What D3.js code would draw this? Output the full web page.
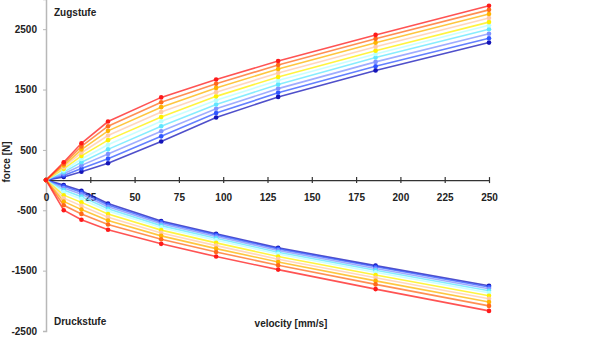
<!DOCTYPE html>
<html>
<head>
<meta charset="utf-8">
<script src="https://cdn.jsdelivr.net/npm/d3@7"></script>
<style>
  body { margin: 0; background: #fff; }
  text { font-family: "Liberation Sans", Arial, sans-serif; font-weight: bold; fill: #222; }
</style>
</head>
<body>
<div id="vis"></div>
<script>
const WIDTH = 600;
const HEIGHT = 352;

// velocidades medidas (mm/s)
const VELOCIDADES = [0, 10, 20, 35, 65, 96, 131, 186, 250];

// Zugstufe (tracción), de rojo a azul oscuro
const ZUG = [
  [0, 295, 610, 970, 1370, 1667, 1972, 2405, 2888],
  [0, 268, 558, 893, 1289, 1597, 1906, 2340, 2820],
  [0, 241, 506, 816, 1208, 1527, 1840, 2274, 2752],
  [0, 213, 453, 739, 1127, 1457, 1774, 2209, 2685],
  [0, 186, 401, 662, 1046, 1387, 1708, 2144, 2617],
  [0, 159, 349, 586, 975, 1322, 1650, 2090, 2565],
  [0, 132, 297, 509, 893, 1252, 1585, 2030, 2500],
  [0, 104, 244, 432, 810, 1180, 1515, 1958, 2425],
  [0, 77, 192, 355, 725, 1110, 1446, 1886, 2350],
  [0, 50, 140, 278, 640, 1038, 1378, 1817, 2278]
];

// Druckstufe (compresión), mismo orden de colores
const DRUCK = [
  [0, -500, -656, -822, -1056, -1267, -1483, -1806, -2167],
  [0, -417, -560, -735, -980, -1191, -1411, -1728, -2084],
  [0, -354, -489, -670, -924, -1135, -1357, -1670, -2021],
  [0, -300, -427, -614, -875, -1086, -1310, -1619, -1967],
  [0, -250, -369, -562, -829, -1040, -1266, -1573, -1917],
  [0, -200, -312, -510, -784, -995, -1223, -1526, -1867],
  [0, -166, -274, -476, -754, -965, -1194, -1495, -1833],
  [0, -133, -235, -441, -723, -934, -1165, -1464, -1800],
  [0, -104, -202, -411, -697, -908, -1140, -1436, -1771],
  [0, -83, -178, -389, -678, -889, -1122, -1417, -1750]
];

const X_TICKS = [0, 25, 50, 75, 100, 125, 150, 175, 200, 225, 250];
const Y_TICKS = [2500, 1500, 500, -500, -1500, -2500];

const COLORES = ["#ff1a1a", "#ff6a1a", "#ffb300", "#ffc9a8", "#fff000",
                 "#b8ffff", "#5fe6ff", "#7f92ff", "#2f55ff", "#1414b8"];

const SVG = d3.select("#vis").append("svg")
  .attr("width", WIDTH)
  .attr("height", HEIGHT);

const escalaX = d3.scaleLinear().domain([0, 250]).range([46, 489]);
const escalaY = d3.scaleLinear().domain([-2500, 3000]).range([331, -1]);

// eje Y (gris)
const ejeY = SVG.append("g")
  .attr("transform", `translate(${escalaX(0)}, 0)`)
  .call(d3.axisLeft(escalaY).tickValues(Y_TICKS).tickFormat(d => String(d)).tickSize(3).tickPadding(6));

ejeY.select(".domain").attr("stroke", "#b8b8b8").attr("stroke-width", 1.5);
ejeY.selectAll(".tick line").attr("stroke", "#b8b8b8");
ejeY.selectAll(".tick text").style("font-size", "10px").attr("fill", "#222");

// eje X (negro, ticks cruzados)
const ejeX = SVG.append("g")
  .attr("transform", `translate(0, ${escalaY(0)})`)
  .call(d3.axisBottom(escalaX).tickValues(X_TICKS).tickFormat(d => String(d)).tickSizeOuter(0).tickPadding(8));

ejeX.select(".domain").attr("stroke", "#333").attr("stroke-width", 1.3);
ejeX.selectAll(".tick line").attr("y1", -3).attr("y2", 3).attr("stroke", "#333").attr("stroke-width", 1.2);
ejeX.selectAll(".tick text").style("font-size", "10px").attr("fill", "#222");

const linea = d3.line()
  .x((d, i) => escalaX(VELOCIDADES[i]))
  .y(d => escalaY(d));

function dibujarSerie(datos, nombre) {
  const contenedor = SVG.append("g").attr("class", nombre);

  // azul oscuro primero, rojo encima
  const orden = d3.range(datos.length).reverse();

  contenedor.selectAll("path")
    .data(orden)
    .join("path")
    .attr("d", i => linea(datos[i]))
    .attr("fill", "none")
    .attr("stroke", i => COLORES[i])
    .attr("stroke-width", 1.6)
    .attr("stroke-opacity", 0.75);

  orden.forEach(i => {
    contenedor.append("g")
      .selectAll("circle")
      .data(datos[i])
      .join("circle")
      .attr("cx", (d, j) => escalaX(VELOCIDADES[j]))
      .attr("cy", d => escalaY(d))
      .attr("r", 2.3)
      .attr("fill", COLORES[i]);
  });
}

dibujarSerie(ZUG, "zug");
dibujarSerie(DRUCK, "druck");

// textos
SVG.append("text").attr("x", 54).attr("y", 16).style("font-size", "10px").text("Zugstufe");
SVG.append("text").attr("x", 54).attr("y", 325).style("font-size", "10px").text("Druckstufe");
SVG.append("text").attr("x", 291).attr("y", 327).attr("text-anchor", "middle")
  .style("font-size", "10px").text("velocity [mm/s]");
SVG.append("text")
  .attr("transform", "translate(10, 162) rotate(-90)")
  .attr("text-anchor", "middle")
  .style("font-size", "10px")
  .text("force [N]");
</script>
</body>
</html>
